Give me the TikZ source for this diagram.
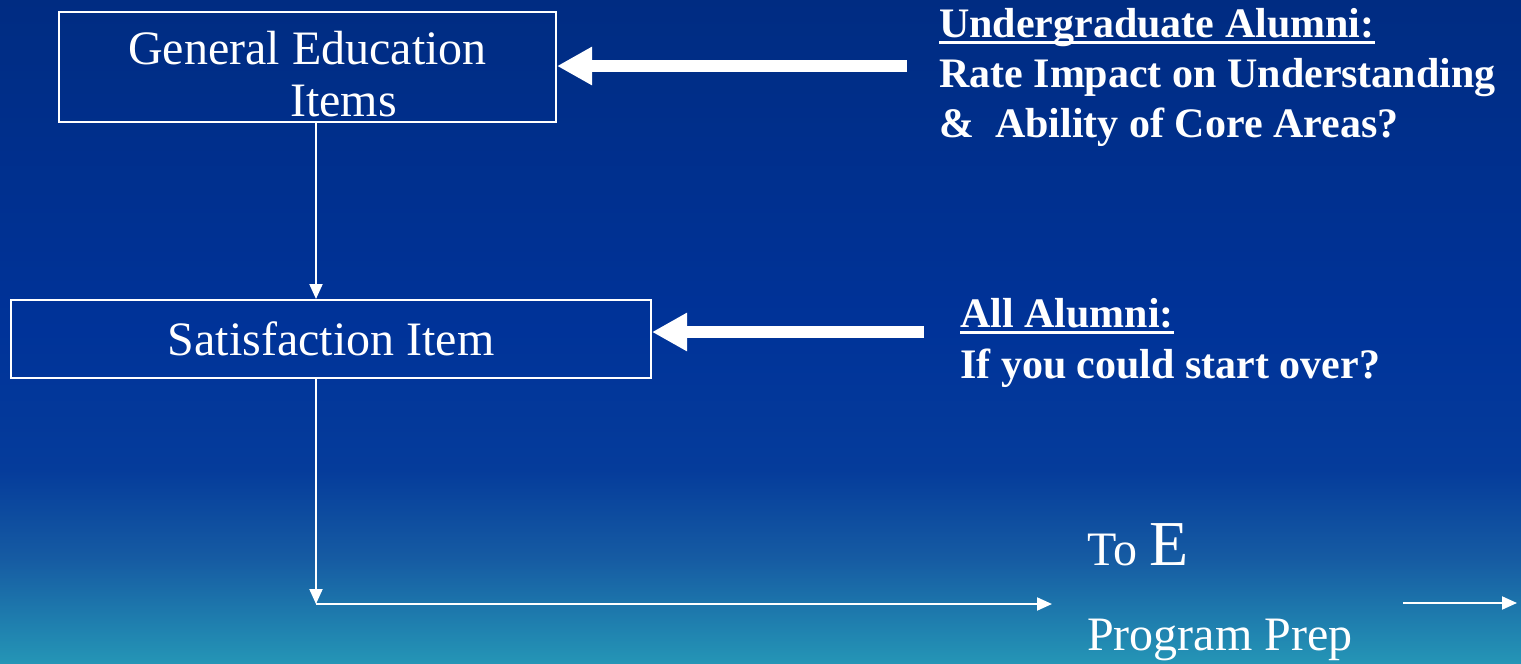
\documentclass[tikz,border=0pt]{standalone}
\usepackage{fontspec}
\setmainfont{Liberation Serif}
\usetikzlibrary{arrows.meta}
\definecolor{bgA}{RGB}{0,44,130}
\definecolor{bgB}{RGB}{0,51,153}
\definecolor{bgC}{RGB}{5,60,155}
\definecolor{bgD}{RGB}{22,92,163}
\definecolor{bgE}{RGB}{37,150,182}
\begin{document}
\begin{tikzpicture}[x=1pt,y=1pt,
  box/.style={draw=white, line width=2pt, inner sep=0pt, text=white,
    font=\fontsize{48}{52}\selectfont, align=center},
  note/.style={text=white, inner sep=0pt, anchor=base west,
    font=\bfseries\fontsize{42}{50}\selectfont},
  plain/.style={text=white, inner sep=0pt, anchor=base west,
    font=\fontsize{48}{52}\selectfont},
  flow/.style={draw=white, line width=2pt, -{Triangle[length=15pt,width=13pt]}},
  bigarrow/.style={draw=white, line width=12pt, -{Triangle[length=35pt,width=36pt]}},
  uline/.style={draw=white, line width=3pt}]
\useasboundingbox (0,0) rectangle (1521,-664);
% background
\shade[top color=bgA, bottom color=bgB] (0,0.5) rectangle (1521,-331);
\shade[top color=bgB, bottom color=bgC] (0,-330) rectangle (1521,-471);
\shade[top color=bgC, bottom color=bgD] (0,-470) rectangle (1521,-561);
\shade[top color=bgD, bottom color=bgE] (0,-560) rectangle (1521,-664.5);
% boxes
\node[box, minimum width=497pt, minimum height=110pt] (ge) at (307.5,-67)
  {\rule{0pt}{48pt}General Education\\\hspace*{72pt}Items};
\node[box, minimum width=640pt, minimum height=78pt] (sat) at (331,-339)
  {Satisfaction Item};
% right notes
\node[note] (u1) at (939,-37) {Undergraduate Alumni:};
\node[note] (u2) at (939,-87) {Rate Impact on Understanding};
\node[note] (u3) at (939,-137) {\& \ Ability of Core Areas?};
\node[note] (a1) at (960,-327) {All Alumni:};
\node[note] (a2) at (960,-378) {If you could start over?};
\draw[uline] ([yshift=-5.5pt]u1.base west) -- ([yshift=-5.5pt]u1.base east);
\draw[uline] ([yshift=-5.5pt]a1.base west) -- ([yshift=-5.5pt]a1.base east);
% bottom labels
\node[plain] (toe) at (1087,-565) {To {\fontsize{64}{66}\selectfont E}};
\node[plain] (prep) at (1087,-650) {Program Prep};
% coordinates
\coordinate (col) at (316,0);
\coordinate (corner) at (316,-604);
\coordinate (hend) at (1052,-604);
\coordinate (h2start) at (1403,-603);
\coordinate (h2end) at (1517,-603);
\coordinate (utail) at (907,-66);
\coordinate (atail) at (924,-332);
% connectors
\draw[flow] (ge.south -| col) -- (sat.north -| col);
\draw[flow] (sat.south -| col) -- (corner);
\draw[flow] (corner) -- (hend);
\draw[flow] (h2start) -- (h2end);
\draw[bigarrow] (utail) -- (utail -| ge.east);
\draw[bigarrow] (atail) -- (atail -| sat.east);
\end{tikzpicture}
\end{document}
